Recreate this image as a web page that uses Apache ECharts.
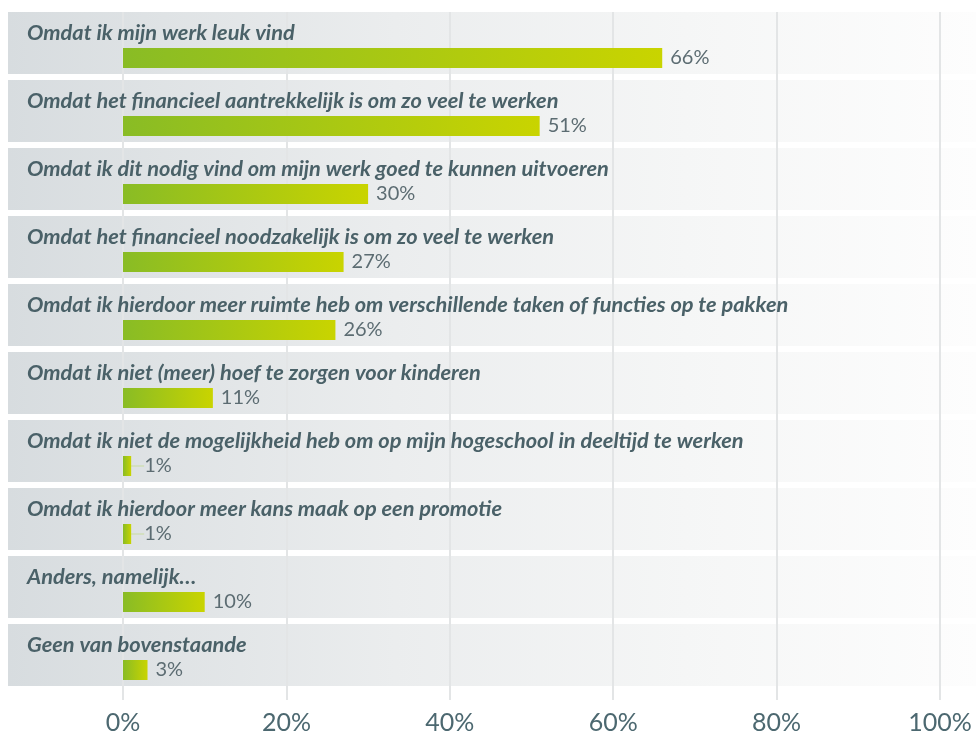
<!DOCTYPE html>
<html>
<head>
<meta charset="utf-8">
<script src="https://cdn.jsdelivr.net/npm/echarts@6/dist/echarts.min.js"></script>
<style>
  html, body { margin: 0; padding: 0; background: #ffffff; }
  #chart { width: 976px; height: 736px; }
</style>
</head>
<body>
<div id="chart"></div>
<script>
// Redenen om meer te werken (percentage respondenten)
const categories = [
  'Omdat ik mijn werk leuk vind',
  'Omdat het financieel aantrekkelijk is om zo veel te werken',
  'Omdat ik dit nodig vind om mijn werk goed te kunnen uitvoeren',
  'Omdat het financieel noodzakelijk is om zo veel te werken',
  'Omdat ik hierdoor meer ruimte heb om verschillende taken of functies op te pakken',
  'Omdat ik niet (meer) hoef te zorgen voor kinderen',
  'Omdat ik niet de mogelijkheid heb om op mijn hogeschool in deeltijd te werken',
  'Omdat ik hierdoor meer kans maak op een promotie',
  'Anders, namelijk…',
  'Geen van bovenstaande'
];
const percentages = [66, 51, 30, 27, 26, 11, 1, 1, 10, 3];
const axisTicks = [0, 20, 40, 60, 80, 100];

const FONT = 'Lato, "Open Sans", "Noto Sans", sans-serif';
const textColor = '#4a6168';

const chart = echarts.init(document.getElementById('chart'), null, { renderer: 'canvas' });

const bandGradient = new echarts.graphic.LinearGradient(0, 0, 1, 0, [
  { offset: 0, color: '#d7dcdf' },
  { offset: 0.4, color: '#ebedee' },
  { offset: 0.7, color: '#f5f6f6' },
  { offset: 1, color: '#fdfdfd' }
]);
const barGradient = new echarts.graphic.LinearGradient(0, 0, 1, 0, [
  { offset: 0, color: '#89bc25' },
  { offset: 1, color: '#c9d400' }
]);

// very small bars get their label pushed out with a short guide line
const barData = percentages.map(v => v <= 1
  ? { value: v, labelLine: { show: true, lineStyle: { color: '#c9dca0', width: 1 } } }
  : { value: v });

chart.setOption({
  animation: false,
  backgroundColor: '#ffffff',
  grid: [
    // row bands with question text
    { left: 8, right: 0, top: 9, height: 680 },
    // percentage bars
    { left: 123, right: 36, top: 24, height: 680 },
    // gridlines and percentage axis
    { left: 123, right: 36, top: 12, height: 688 }
  ],
  xAxis: [
    { gridIndex: 0, type: 'value', min: 0, max: 1, show: false },
    { gridIndex: 1, type: 'value', min: 0, max: 100, show: false },
    {
      gridIndex: 2, type: 'value', min: 0, max: 100, interval: 20,
      axisLine: { show: false },
      axisTick: { show: false },
      splitLine: { show: true, lineStyle: { color: '#e3e5e6', width: 2 } },
      axisLabel: {
        margin: 10,
        fontFamily: FONT,
        fontSize: 25,
        color: '#4c6870',
        formatter: v => axisTicks.includes(v) ? v + '%' : ''
      }
    }
  ],
  yAxis: [
    { gridIndex: 0, type: 'category', data: categories, inverse: true, show: false },
    { gridIndex: 1, type: 'category', data: categories, inverse: true, show: false },
    { gridIndex: 2, type: 'value', min: 0, max: 1, show: false }
  ],
  series: [
    {
      name: 'band',
      type: 'bar',
      xAxisIndex: 0,
      yAxisIndex: 0,
      z: -1,
      barWidth: 62,
      silent: true,
      data: categories.map(() => 1),
      itemStyle: { color: bandGradient }
    },
    {
      // transparent overlay carrying the question text above the gridlines
      name: 'question',
      type: 'bar',
      xAxisIndex: 0,
      yAxisIndex: 0,
      z: 4,
      barWidth: 62,
      barGap: '-100%',
      silent: true,
      data: categories.map(() => 1),
      itemStyle: { color: 'rgba(0,0,0,0)' },
      label: {
        show: true,
        position: [19, 21],
        verticalAlign: 'middle',
        align: 'left',
        formatter: p => categories[p.dataIndex],
        fontFamily: FONT,
        fontSize: 21.8,
        fontWeight: 'bold',
        fontStyle: 'italic',
        color: textColor
      }
    },
    {
      name: 'Percentage',
      type: 'bar',
      xAxisIndex: 1,
      yAxisIndex: 1,
      z: 3,
      barWidth: 20,
      data: barData,
      itemStyle: { color: barGradient },
      label: {
        show: true,
        position: 'right',
        distance: 8,
        offset: [0, 2],
        formatter: p => p.value + '%',
        fontFamily: FONT,
        fontSize: 20,
        color: '#5c6c72'
      },
      labelLayout: p => percentages[p.dataIndex] <= 1 ? { dx: 5 } : {}
    }
  ]
});
</script>
</body>
</html>
